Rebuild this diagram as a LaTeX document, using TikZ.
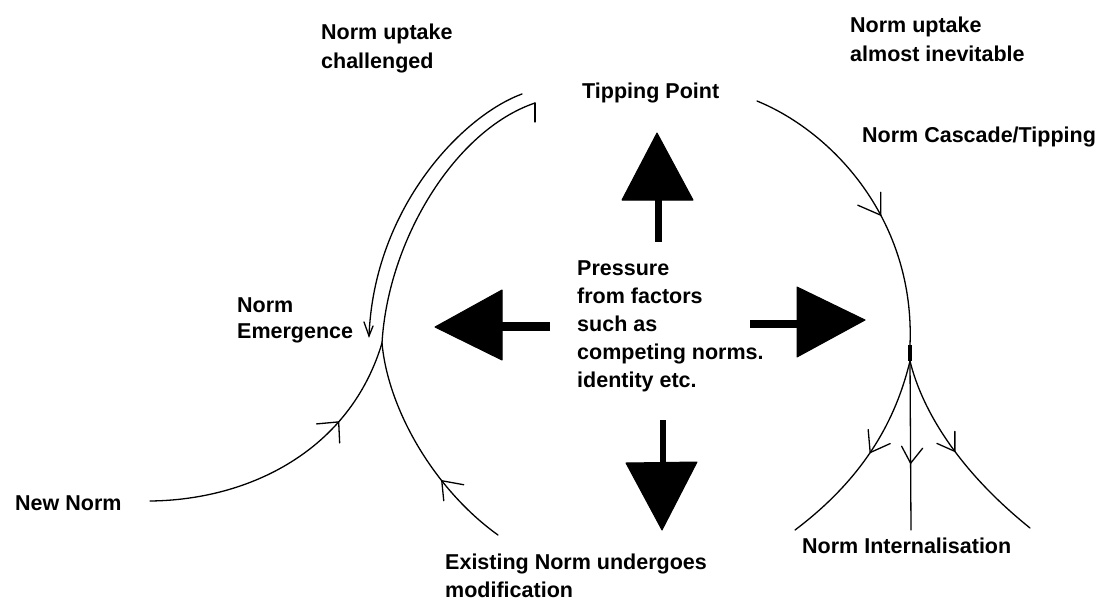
\documentclass[tikz,border=0pt]{standalone}
\usepackage{fontspec}
\setmainfont{Liberation Sans}
\begin{document}
\begin{tikzpicture}[x=1pt,y=-1pt,
  lbl/.style={font=\fontsize{21.5}{28}\selectfont\bfseries, inner sep=0pt, anchor=base west},
  curve/.style={line width=1.3pt, line cap=round},
  barb/.style={line width=1.3pt, line cap=round, line join=miter},
  bigarrow/.style={fill=black, draw=black, line width=1pt, line join=round}]
\fill[white] (0,0) rectangle (1102,602);
\useasboundingbox (0,0) rectangle (1102,602);

% ---- labels ----
\node[lbl] (nuc1) at (321,40) {Norm uptake};
\node[lbl] (nuc2) at (321,69) {challenged};
\node[lbl] (nui1) at (850,33) {Norm uptake};
\node[lbl] (nui2) at (850,62) {almost inevitable};
\node[lbl] (tp) at (582,98) {Tipping Point};
\node[lbl] (casc) at (862,142) {Norm Cascade/Tipping};
\node[lbl] (em1) at (237,312) {Norm};
\node[lbl] (em2) at (237,338) {Emergence};
\node[lbl] (pr1) at (577,275) {Pressure};
\node[lbl] (pr2) at (577,303) {from factors};
\node[lbl] (pr3) at (577,331) {such as};
\node[lbl] (pr4) at (577,359) {competing norms.};
\node[lbl] (pr5) at (577,387) {identity etc.};
\node[lbl] (new) at (15,510) {New Norm};
\node[lbl] (ex1) at (445,569) {Existing Norm undergoes};
\node[lbl] (ex2) at (445,597) {modification};
\node[lbl] (int) at (802,553) {Norm Internalisation};

% ---- key points ----
\coordinate (O1) at (522,94);
\coordinate (O2) at (369,336);
\coordinate (J1) at (382,343);
\coordinate (T1) at (535,103);
\coordinate (NN) at (150,501);
\coordinate (EN) at (498,535);
\coordinate (T2) at (757,101);
\coordinate (J2) at (910,345);
\coordinate (J3) at (910,361);
\coordinate (BL) at (795,530);
\coordinate (BC) at (911,530);
\coordinate (BR) at (1030,528);

% ---- left side curves ----
\draw[curve] (O1) .. controls (462,116) and (374,208) .. (O2);
\draw[barb] (O2) ++(-5,-14) -- (O2) -- ++(4,-10);

\draw[curve] (J1) .. controls (388,240) and (455,130) .. (T1);
\draw[barb] (T1) -- ++(0,19);

\draw[curve] (NN) .. controls (250,500) and (350,450) .. coordinate[pos=0.71] (a1) (J1);
\draw[barb] (a1) ++(-22,2) -- (a1) -- ++(1,21);

\draw[curve] (EN) .. controls (435,490) and (388,410) .. coordinate[pos=0.33] (a2) (J1);
\draw[barb] (a2) ++(22,4) -- (a2) -- ++(2,20);

% ---- right side curves ----
\draw[curve] (T2) .. controls (835,133) and (915,222) .. coordinate[pos=0.6] (a3) (J2);
\draw[barb] (a3) ++(-23,-10) -- (a3) -- ++(0,-23);
\draw[line width=4.5pt] (J2) -- (J3);

\draw[curve] (J3) .. controls (898,410) and (872,472) .. coordinate[pos=0.56] (a4) (BL);
\draw[barb] (a4) ++(-2,-23) -- (a4) -- ++(20,-9);

\draw[curve] (J3) -- coordinate[pos=0.605] (a5) (BC);
\draw[barb] (a5) ++(-9,-17) -- (a5) -- ++(12,-15);

\draw[curve] (J3) .. controls (922,410) and (958,470) .. coordinate[pos=0.56] (a6) (BR);
\draw[barb] (a6) ++(0,-20) -- (a6) -- ++(-18,-8);

% ---- big black arrows ----
\fill (655,200) rectangle (662,242);
\draw[bigarrow] (657,133) -- (622,200) -- (693,200) -- cycle;

\fill (660,420) rectangle (666,463);
\draw[bigarrow] (626,463) -- (697,462) -- (662,530) -- cycle;

\fill (500,322) rectangle (550,331);
\draw[bigarrow] (435,327) -- (502,290) -- (502,360) -- cycle;

\fill (750,320) rectangle (799,328);
\draw[bigarrow] (797,287) -- (865,320) -- (797,357) -- cycle;
\end{tikzpicture}
\end{document}
